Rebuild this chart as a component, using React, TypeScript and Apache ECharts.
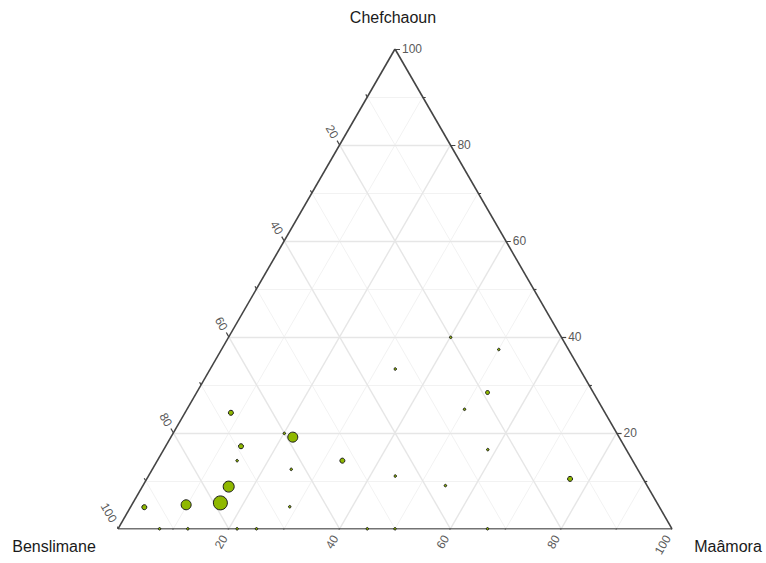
import React, { useEffect, useRef } from "react";
import * as echarts from "echarts";

const axisNames = ["Benslimane", "Chefchaoun", "Maâmora"];
const tickLabels = [20, 40, 60, 80, 100];
const gridValues = [10, 20, 30, 40, 50, 60, 70, 80, 90];
const tickValues = [10, 20, 30, 40, 50, 60, 70, 80, 90, 100];

// composition of each point (percent)
const benslimane = [67.6, 60.1, 58.9, 69.2, 71.4, 62.6, 75.7, 93.0, 85.2, 78.9, 66.7, 20.0, 12.6, 33.3, 19.1, 25.0, 25.0, 52.4, 44.5, 36.4, 13.2, 92.5, 87.4, 78.5, 75.0, 55.0, 50.0, 33.3];
const chefchaoun = [24.2, 19.9, 19.1, 17.2, 14.2, 12.4, 8.8, 4.5, 5.0, 5.4, 4.6, 39.9, 37.4, 33.3, 28.4, 24.9, 16.5, 14.2, 11.0, 9.0, 10.4, 0, 0, 0, 0, 0, 0, 0];
const maamora = [8.3, 20.1, 22.0, 13.6, 14.4, 25.1, 15.6, 2.5, 9.8, 15.8, 28.7, 40.1, 50.1, 33.4, 52.5, 50.1, 58.5, 33.4, 44.6, 54.6, 76.4, 7.5, 12.6, 21.5, 25.0, 45.0, 50.0, 66.7];
const pointSize = [5, 2.5, 10, 5, 2.5, 2.5, 11, 5, 10, 14, 2.5, 2.5, 2.5, 2.5, 4, 2.5, 2.5, 5, 2.5, 2.5, 5, 2.5, 2.5, 2.5, 2.5, 2.5, 2.5, 2.5];

const H = Math.sqrt(3) / 2;
const PX = 554; // pixel width of triangle base (layout)

function toXY(b: number, c: number, m: number): [number, number] {
  const s = b + c + m;
  return [(m + c / 2) / s, (c / s) * H];
}

export default function App() {
  const ref = useRef<HTMLDivElement>(null);
  useEffect(() => {
    if (!ref.current) return;
    const chart = echarts.init(ref.current, null, { renderer: "svg" });

    const majorGrid: any[] = [];
    const minorGrid: any[] = [];
    gridValues.forEach((v) => {
      const p = v / 100;
      const segs = [
        [toXY(1 - p, p, 0), toXY(0, p, 1 - p)],
        [toXY(1 - p, 0, p), toXY(0, 1 - p, p)],
        [toXY(p, 0, 1 - p), toXY(p, 1 - p, 0)],
      ];
      segs.forEach((s) => (v % 20 === 0 ? majorGrid : minorGrid).push({ coords: s }));
    });

    const border = [
      { coords: [toXY(1, 0, 0), toXY(0, 0, 1)] },
      { coords: [toXY(0, 0, 1), toXY(0, 1, 0)] },
      { coords: [toXY(0, 1, 0), toXY(1, 0, 0)] },
    ];

    const dirs: Record<string, [number, number]> = {
      right: [1, 0],
      left: [-0.5, H],
      bottom: [-0.5, -H],
    };
    const edgePoint = (axis: string, p: number): [number, number] => {
      if (axis === "right") return toXY(0, p, 1 - p);
      if (axis === "left") return toXY(p, 1 - p, 0);
      return toXY(1 - p, 0, p);
    };

    const ticks: any[] = [];
    ["right", "left", "bottom"].forEach((axis) => {
      tickValues.forEach((v) => {
        const p = v / 100;
        const e = edgePoint(axis, p);
        const len = (v % 20 === 0 ? 5 : 3) / PX;
        const d = dirs[axis];
        ticks.push({ coords: [e, [e[0] + d[0] * len, e[1] + d[1] * len]] });
      });
    });

    chart.setOption({
      animation: false,
      grid: { left: 118, top: 49, width: PX, height: PX * H },
      xAxis: { type: "value", min: 0, max: 1, show: false },
      yAxis: { type: "value", min: 0, max: H, show: false },
      series: [
        {
          type: "lines",
          coordinateSystem: "cartesian2d",
          silent: true,
          z: 1,
          lineStyle: { color: "#f2f2f2", width: 1, opacity: 1 },
          data: minorGrid,
        },
        {
          type: "lines",
          coordinateSystem: "cartesian2d",
          silent: true,
          z: 2,
          lineStyle: { color: "#e6e6e6", width: 1.4, opacity: 1 },
          data: majorGrid,
        },
        {
          type: "lines",
          coordinateSystem: "cartesian2d",
          silent: true,
          z: 3,
          lineStyle: { color: "#444444", width: 1.6, opacity: 1 },
          data: border,
        },
        {
          type: "lines",
          coordinateSystem: "cartesian2d",
          silent: true,
          z: 3,
          lineStyle: { color: "#444444", width: 1.2, opacity: 1 },
          data: ticks,
        },
        {
          type: "scatter",
          z: 5,
          data: benslimane.map((b, i) => {
            const xy = toXY(b, chefchaoun[i], maamora[i]);
            return { value: xy, symbolSize: pointSize[i] };
          }),
          itemStyle: { color: "#8fb800", borderColor: "#1a1a1a", borderWidth: 1, opacity: 1 },
        },
      ],
    });

    const graphics: any[] = [];
    const labelFont = { fontSize: 12, fill: "#5a5a5a", fontFamily: "Liberation Sans, Arial, sans-serif" };
    ["right", "left", "bottom"].forEach((axis) => {
      tickLabels.forEach((v) => {
        const p = v / 100;
        const e = edgePoint(axis, p);
        const d = dirs[axis];
        const off = (axis === "right" ? 7 : 8.5) / PX;
        const px = chart.convertToPixel({ gridIndex: 0 }, [e[0] + d[0] * off, e[1] + d[1] * off]) as number[];
        let rotation = 0;
        let align = "left";
        if (axis === "left") {
          rotation = -Math.PI / 3;
          align = "right";
        } else if (axis === "bottom") {
          rotation = Math.PI / 3;
          align = "right";
        }
        graphics.push({
          type: "text",
          x: px[0],
          y: px[1],
          rotation,
          style: { text: String(v), align, verticalAlign: "middle", ...labelFont },
        });
      });
    });

    const titleFont = { fontSize: 16, fill: "#1a1a1a", fontFamily: "Liberation Sans, Arial, sans-serif" };
    const top = chart.convertToPixel({ gridIndex: 0 }, toXY(0, 1, 0)) as number[];
    const bl = chart.convertToPixel({ gridIndex: 0 }, toXY(1, 0, 0)) as number[];
    const br = chart.convertToPixel({ gridIndex: 0 }, toXY(0, 0, 1)) as number[];
    graphics.push({
      type: "text",
      x: top[0] - 2,
      y: top[1] - 32,
      style: { text: axisNames[1], align: "center", verticalAlign: "middle", ...titleFont },
    });
    graphics.push({
      type: "text",
      x: bl[0] - 64,
      y: bl[1] + 18,
      style: { text: axisNames[0], align: "center", verticalAlign: "middle", ...titleFont },
    });
    graphics.push({
      type: "text",
      x: br[0] + 56,
      y: br[1] + 18,
      style: { text: axisNames[2], align: "center", verticalAlign: "middle", ...titleFont },
    });

    chart.setOption({ graphic: graphics });

    return () => chart.dispose();
  }, []);

  return (
    <div
      ref={ref}
      style={{ position: "absolute", left: 0, top: 0, width: 766, height: 563, background: "#ffffff" }}
    />
  );
}
